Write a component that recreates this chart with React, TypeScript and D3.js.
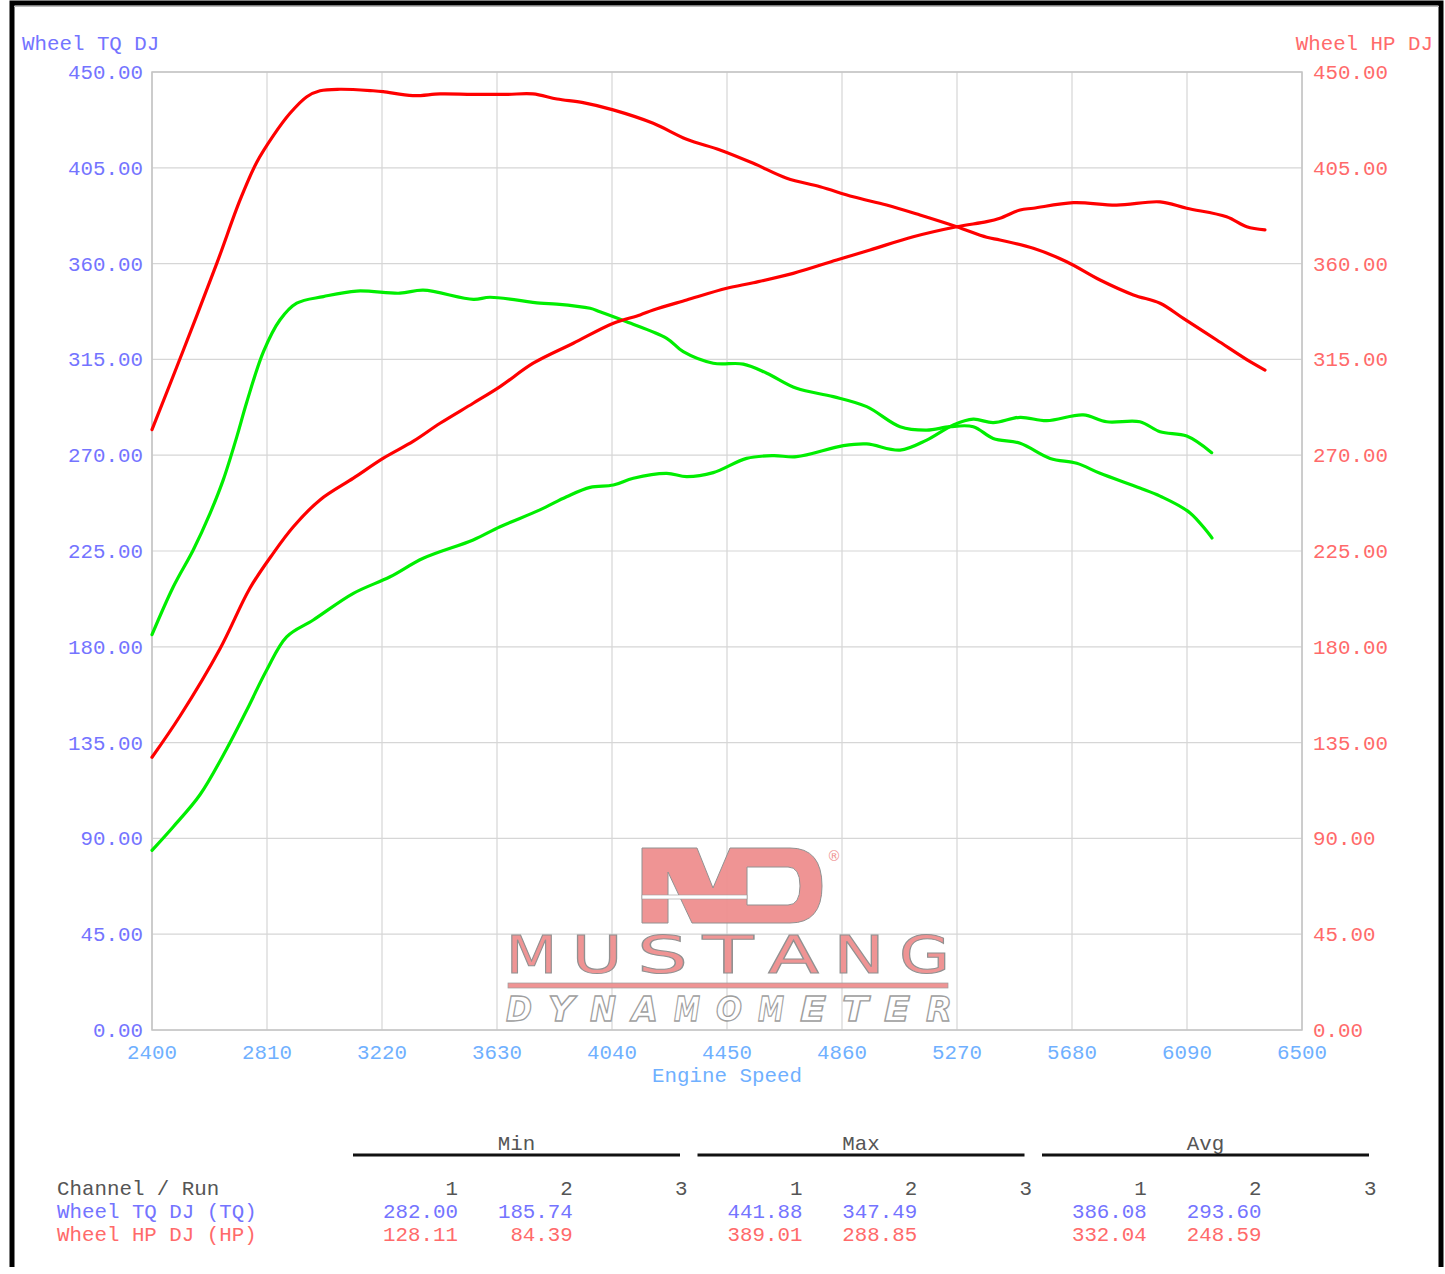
import React from "react";
import * as d3 from "d3";

// ---------- data ----------
const rpmTicks = [2400, 2810, 3220, 3630, 4040, 4450, 4860, 5270, 5680, 6090, 6500];
const valueTicks = [0, 45, 90, 135, 180, 225, 270, 315, 360, 405, 450];

// Run 1 wheel torque (red, upper)
const tq1Rpm = [2400, 2512, 2631, 2714, 2773, 2832, 2892, 2952, 2999, 3070, 3188, 3224, 3330, 3427, 3544, 3665, 3758, 3844, 3937, 4044, 4187, 4306, 4425, 4544, 4663, 4782, 4900, 5019, 5138, 5269, 5376, 5423, 5542, 5661, 5780, 5899, 5994, 6077, 6196, 6315, 6368];
const tq1Val = [282.0, 319.4, 360.1, 389.9, 407.5, 420.0, 430.6, 438.4, 441.2, 441.9, 441.2, 440.8, 438.9, 439.7, 439.5, 439.5, 439.7, 437.3, 435.6, 432.2, 425.9, 418.4, 413.4, 407.1, 400.1, 396.1, 391.4, 387.5, 382.8, 377.3, 372.4, 371.1, 367.2, 360.9, 352.3, 345.3, 341.4, 334.3, 324.1, 313.9, 310.0];

// Run 1 wheel horsepower (red, lower)
const hp1Rpm = [2400, 2500, 2642, 2749, 2832, 2904, 2999, 3118, 3225, 3332, 3427, 3545, 3641, 3759, 3902, 4045, 4140, 4187, 4306, 4449, 4544, 4686, 4841, 4960, 5114, 5269, 5376, 5423, 5495, 5542, 5685, 5839, 5994, 6089, 6231, 6303, 6368];
const hp1Val = [128.1, 147.5, 179.0, 207.5, 223.9, 236.4, 249.0, 259.2, 268.6, 276.6, 285.0, 294.4, 302.2, 313.2, 322.6, 332.0, 335.9, 338.2, 342.9, 348.4, 351.0, 355.4, 361.7, 366.4, 372.6, 377.3, 379.7, 381.3, 385.2, 386.0, 388.6, 387.5, 389.0, 386.0, 382.0, 377.3, 375.8];

// Run 2 wheel torque (green, upper)
const tq2Rpm = [2400, 2476, 2547, 2607, 2654, 2702, 2738, 2797, 2856, 2916, 3011, 3130, 3284, 3367, 3546, 3605, 3783, 3843, 3962, 3997, 4092, 4235, 4294, 4401, 4508, 4592, 4698, 4829, 4948, 5067, 5162, 5245, 5328, 5399, 5495, 5602, 5697, 5780, 5922, 5994, 6101, 6179];
const tq2Val = [185.7, 208.2, 225.5, 242.7, 258.4, 278.5, 295.0, 318.5, 333.5, 341.4, 344.5, 347.1, 346.1, 347.5, 343.2, 344.2, 341.4, 341.0, 339.0, 337.4, 332.7, 324.9, 318.6, 313.2, 312.8, 308.5, 301.4, 297.5, 292.8, 283.4, 281.8, 283.4, 283.4, 277.9, 275.6, 268.5, 266.2, 261.5, 254.6, 250.8, 242.9, 231.1];

// Run 2 wheel horsepower (green, lower)
const hp2Rpm = [2400, 2476, 2571, 2666, 2738, 2809, 2880, 2975, 3118, 3249, 3367, 3545, 3641, 3783, 3878, 3962, 4045, 4116, 4235, 4306, 4401, 4520, 4615, 4698, 4865, 4948, 5067, 5162, 5257, 5328, 5399, 5495, 5590, 5720, 5804, 5922, 5994, 6089, 6178];
const hp2Val = [84.4, 95.5, 110.5, 132.0, 150.3, 169.1, 184.7, 192.6, 205.1, 212.9, 221.6, 230.2, 236.4, 244.3, 250.5, 254.9, 256.0, 259.2, 261.5, 259.9, 261.8, 268.5, 269.8, 269.3, 274.5, 275.3, 272.4, 277.1, 284.2, 286.9, 285.3, 287.8, 286.2, 288.9, 285.7, 285.7, 281.0, 279.0, 271.2];

// Summary table
const statGroups = ["Min", "Max", "Avg"];
const runLabels = ["1", "2", "3"];
const channelNames = ["Wheel TQ DJ (TQ)", "Wheel HP DJ (HP)"];
const tqStats = ["282.00", "185.74", "", "441.88", "347.49", "", "386.08", "293.60", ""];
const hpStats = ["128.11", "84.39", "", "389.01", "288.85", "", "332.04", "248.59", ""];

const logoWord = "MUSTANG".split("");
const logoSub = "DYNAMOMETER".split("");

// ---------- styles ----------
const MONO = "'Liberation Mono', 'Courier New', monospace";
const BLUE = "#7474ff";
const RED_TXT = "#ff6a6a";
const XBLUE = "#6fb0ff";
const GRID = "#d6d6d6";
const PINK = "#ef8f8f";

export default function App() {
  const W = 1445, H = 1274;
  const x = d3.scaleLinear().domain([2400, 6500]).range([152, 1302]);
  const y = d3.scaleLinear().domain([0, 450]).range([1030, 72]);
  const fmt = d3.format(".2f");

  const line = d3
    .line<[number, number]>()
    .x((d) => x(d[0]))
    .y((d) => y(d[1]))
    .curve(d3.curveCatmullRom.alpha(0.5));
  const zip = (a: number[], b: number[]) => a.map((r, i) => [r, b[i]] as [number, number]);

  const series = [
    { rpm: hp2Rpm, val: hp2Val, color: "#00ee00" },
    { rpm: tq2Rpm, val: tq2Val, color: "#00ee00" },
    { rpm: hp1Rpm, val: hp1Val, color: "#ff0000" },
    { rpm: tq1Rpm, val: tq1Val, color: "#ff0000" },
  ];

  const colScale = d3.scaleLinear().domain([0, 8]).range([458, 458 + 8 * 114.8]);
  const groupStart = d3.scaleLinear().domain([0, 2]).range([353, 353 + 2 * 344.5]);

  const letterBand = d3.scaleBand<number>().domain(d3.range(logoWord.length)).range([506, 950]).paddingInner(0.22);
  const subBand = d3.scaleBand<number>().domain(d3.range(logoSub.length)).range([506, 952]).paddingInner(0.38);

  return (
    <svg width={W} height={H} style={{ position: "absolute", left: 0, top: 0, background: "#fff" }}>
      <rect x={0} y={0} width={W} height={H} fill="#fff" />
      {/* outer frame */}
      <path d="M12,1267 L12,3 L1441,3 L1441,1267" fill="none" stroke="#000" strokeWidth={5} />
      <line x1={14} x2={1439} y1={6.5} y2={6.5} stroke="#bbb" strokeWidth={1} />

      {/* grid */}
      {rpmTicks.map((t) => (
        <line key={"gx" + t} x1={x(t)} x2={x(t)} y1={y(450)} y2={y(0)} stroke={GRID} strokeWidth={1.2} />
      ))}
      {valueTicks.map((t) => (
        <line key={"gy" + t} x1={x(2400)} x2={x(6500)} y1={y(t)} y2={y(t)} stroke={GRID} strokeWidth={1.2} />
      ))}
      <rect x={x(2400)} y={y(450)} width={x(6500) - x(2400)} height={y(0) - y(450)} fill="none" stroke="#c4c4c4" strokeWidth={1.5} />

      {/* logo watermark */}
      <g opacity={0.95}>
        <path
          d="M642,848 L697,848 L713,888 L730,848 L790,848 Q822,848 822,886 Q822,923 790,923 L692,923 L668,872 L668,923 L642,923 Z M747,867 L788,867 Q800,867 800,886 Q800,905 788,905 L747,905 Z"
          fill={PINK}
          fillRule="evenodd"
          stroke="#8c8c8c"
          strokeWidth={1}
        />
        <rect x={642} y={895} width={105} height={4} fill="#fff" stroke="#999" strokeWidth={0.6} />
        <text x={827} y={861} fontSize={14} fill={PINK} fontFamily="DejaVu Sans">®</text>
        {logoWord.map((ch, i) => (
          <text
            key={"lw" + i}
            x={(letterBand(i) as number) + letterBand.bandwidth() / 2}
            y={973}
            textAnchor="middle"
            fontSize={52}
            fontFamily="'DejaVu Sans', sans-serif"
            textLength={letterBand.bandwidth()}
            lengthAdjust="spacingAndGlyphs"
            fill={PINK}
            stroke="#8c8c8c"
            strokeWidth={1}
          >
            {ch}
          </text>
        ))}
        <rect x={508} y={983} width={440} height={5} fill={PINK} stroke="#999" strokeWidth={0.7} />
        {logoSub.map((ch, i) => (
          <text
            key={"ls" + i}
            x={(subBand(i) as number) + subBand.bandwidth() / 2}
            y={1021}
            textAnchor="middle"
            fontSize={33}
            fontStyle="italic"
            fontWeight="bold"
            fontFamily="'DejaVu Sans', sans-serif"
            textLength={subBand.bandwidth()}
            lengthAdjust="spacingAndGlyphs"
            fill="#fff"
            stroke="#9a9a9a"
            strokeWidth={1.3}
          >
            {ch}
          </text>
        ))}
      </g>

      {/* curves */}
      {series.map((s, i) => (
        <path
          key={"s" + i}
          d={line(zip(s.rpm, s.val)) || ""}
          fill="none"
          stroke={s.color}
          strokeWidth={3.2}
          strokeLinejoin="round"
          strokeLinecap="round"
        />
      ))}

      {/* axis titles */}
      <text x={22} y={50} fontSize={20.8} fontFamily={MONO} fill={BLUE}>Wheel TQ DJ</text>
      <text x={1433} y={50} fontSize={20.8} fontFamily={MONO} fill={RED_TXT} textAnchor="end">Wheel HP DJ</text>

      {/* left axis */}
      {valueTicks.map((t) => (
        <text key={"ly" + t} x={143} y={y(t) + 7} fontSize={20.8} fontFamily={MONO} fill={BLUE} textAnchor="end">
          {fmt(t)}
        </text>
      ))}
      {/* right axis */}
      {valueTicks.map((t) => (
        <text key={"ry" + t} x={1313} y={y(t) + 7} fontSize={20.8} fontFamily={MONO} fill={RED_TXT}>
          {fmt(t)}
        </text>
      ))}
      {/* x axis */}
      {rpmTicks.map((t) => (
        <text key={"xt" + t} x={x(t)} y={1059} fontSize={20.8} fontFamily={MONO} fill={XBLUE} textAnchor="middle">
          {t}
        </text>
      ))}
      <text x={727} y={1082} fontSize={20.8} fontFamily={MONO} fill={XBLUE} textAnchor="middle">Engine Speed</text>

      {/* summary table */}
      {statGroups.map((g, i) => (
        <g key={"sg" + g}>
          <text x={groupStart(i) + 163.5} y={1150} fontSize={20.8} fontFamily={MONO} fill="#555" textAnchor="middle">{g}</text>
          <line x1={groupStart(i)} x2={groupStart(i) + 327} y1={1155} y2={1155} stroke="#111" strokeWidth={3} />
        </g>
      ))}
      <text x={57} y={1195} fontSize={20.8} fontFamily={MONO} fill="#555">Channel / Run</text>
      <text x={57} y={1218} fontSize={20.8} fontFamily={MONO} fill={BLUE}>{channelNames[0]}</text>
      <text x={57} y={1241} fontSize={20.8} fontFamily={MONO} fill={RED_TXT}>{channelNames[1]}</text>
      {d3.range(9).map((c) => (
        <g key={"col" + c}>
          <text x={colScale(c)} y={1195} fontSize={20.8} fontFamily={MONO} fill="#555" textAnchor="end">{runLabels[c % 3]}</text>
          <text x={colScale(c)} y={1218} fontSize={20.8} fontFamily={MONO} fill={BLUE} textAnchor="end">{tqStats[c]}</text>
          <text x={colScale(c)} y={1241} fontSize={20.8} fontFamily={MONO} fill={RED_TXT} textAnchor="end">{hpStats[c]}</text>
        </g>
      ))}
    </svg>
  );
}
